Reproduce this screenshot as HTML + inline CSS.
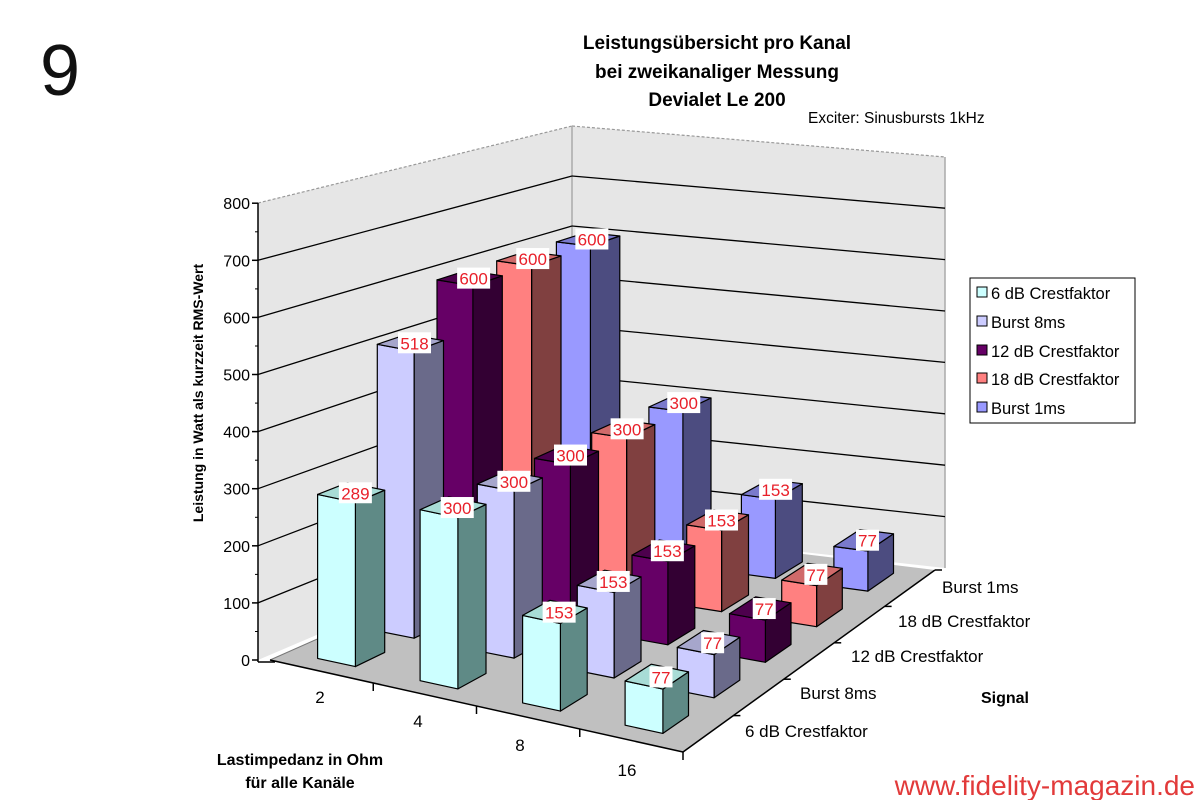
<!DOCTYPE html>
<html><head><meta charset="utf-8"><style>
html,body{margin:0;padding:0;background:#fff;}
svg{display:block;font-family:"Liberation Sans",Arial,sans-serif;}
</style></head><body>
<svg id="s" width="1200" height="800" viewBox="0 0 1200 800" xmlns="http://www.w3.org/2000/svg">
<rect width="1200" height="800" fill="#fff"/>
<text x="60" y="95" font-size="72" font-weight="300" text-anchor="middle" fill="#111">9</text>
<g font-weight="bold" font-size="19" text-anchor="middle" fill="#000">
<text x="717" y="49">Leistungsübersicht pro Kanal</text>
<text x="717" y="78">bei zweikanaliger Messung</text>
<text x="717" y="106">Devialet Le 200</text>
</g>
<text x="808" y="123" font-size="15.5">Exciter: Sinusbursts 1kHz</text>
<g id="walls"></g>
<g id="bars"></g>
<g font-size="16" text-anchor="end" id="yt"></g>
<text transform="translate(203,393) rotate(-90)" font-size="14" font-weight="bold" text-anchor="middle">Leistung in Watt als kurzzeit RMS-Wert</text>
<g font-size="17">
<text x="320" y="703" text-anchor="middle">2</text>
<text x="418" y="727" text-anchor="middle">4</text>
<text x="520" y="751" text-anchor="middle">8</text>
<text x="627" y="776" text-anchor="middle">16</text>
<text x="942" y="593">Burst 1ms</text>
<text x="898" y="627">18 dB Crestfaktor</text>
<text x="851" y="662">12 dB Crestfaktor</text>
<text x="800" y="699">Burst 8ms</text>
<text x="745" y="737">6 dB Crestfaktor</text>
</g>
<text x="1005" y="703" font-size="16" font-weight="bold" text-anchor="middle">Signal</text>
<g font-size="16" font-weight="bold" text-anchor="middle">
<text x="300" y="765">Lastimpedanz in Ohm</text>
<text x="300" y="788">für alle Kanäle</text>
</g>
<rect x="970" y="278" width="165" height="145" fill="#fff" stroke="#000" stroke-width="1"/>
<g font-size="16.5">
<rect x="977" y="287" width="10" height="10" fill="#ccffff" stroke="#000"/><text x="991" y="299">6 dB Crestfaktor</text>
<rect x="977" y="316" width="10" height="10" fill="#ccccff" stroke="#000"/><text x="991" y="328">Burst 8ms</text>
<rect x="977" y="345" width="10" height="10" fill="#660066" stroke="#000"/><text x="991" y="357">12 dB Crestfaktor</text>
<rect x="977" y="373" width="10" height="10" fill="#ff8080" stroke="#000"/><text x="991" y="385">18 dB Crestfaktor</text>
<rect x="977" y="402" width="10" height="10" fill="#9999ff" stroke="#000"/><text x="991" y="414">Burst 1ms</text>
</g>
<text x="1195" y="795" font-size="28" fill="#e23a3a" text-anchor="end">www.fidelity-magazin.de</text>
</svg>
<script>
(function(){
var NS="http://www.w3.org/2000/svg";
var FL=[270,660],FR=[683,752],BL=[572,526],BR=[935,570];
var sFL=0.571,sFR=0.58,sBL=0.5,sBR=0.512;
function P(u,v,h){
 var x=FL[0]*(1-u)*(1-v)+FR[0]*u*(1-v)+BL[0]*(1-u)*v+BR[0]*u*v;
 var y=FL[1]*(1-u)*(1-v)+FR[1]*u*(1-v)+BL[1]*(1-u)*v+BR[1]*u*v;
 var s=sFL*(1-u)*(1-v)+sFR*u*(1-v)+sBL*(1-u)*v+sBR*u*v;
 return [x,y-h*s];
}
function poly(g,pts,fill,stroke,sw){
 var p=document.createElementNS(NS,"polygon");
 p.setAttribute("points",pts.map(function(a){return a[0].toFixed(1)+","+a[1].toFixed(1)}).join(" "));
 p.setAttribute("fill",fill);p.setAttribute("stroke",stroke||"#000");p.setAttribute("stroke-width",sw||1.2);
 p.setAttribute("stroke-linejoin","round");g.appendChild(p);
}
function line(g,a,b,c,w,dash){
 var l=document.createElementNS(NS,"line");
 l.setAttribute("x1",a[0]);l.setAttribute("y1",a[1]);l.setAttribute("x2",b[0]);l.setAttribute("y2",b[1]);
 l.setAttribute("stroke",c);l.setAttribute("stroke-width",w);if(dash)l.setAttribute("stroke-dasharray",dash);g.appendChild(l);
}
function txt(g,x,y,t,attrs){
 var e=document.createElementNS(NS,"text");e.setAttribute("x",x);e.setAttribute("y",y);e.textContent=t;
 for(var k in attrs)e.setAttribute(k,attrs[k]);g.appendChild(e);
}
var W=document.getElementById("walls");
var LWx=258;
poly(W,[[LWx,660],[LWx,203],[572,126],[572,526]],"#e6e6e6","none",0);
poly(W,[[572,526],[572,126],[945,157],[945,568]],"#e6e6e6","none",0);
line(W,[LWx,203],[572,126],"#999",1.2,"3,2");
line(W,[572,126],[945,157],"#999",1.2,"3,2");
line(W,[572,126],[572,526],"#aaa",1.5);
line(W,[945,157],[945,568],"#aaa",1.5);
for(var k=1;k<=7;k++){
 var yl=660-k*57.1, yc=526-k*50, yr=568-k*51.4;
 line(W,[LWx,yl],[572,yc],"#000",1.3);
 line(W,[572,yc],[945,yr],"#000",1.3);
}
poly(W,[[FL[0],FL[1]],[FR[0],FR[1]],[BR[0],BR[1]],[BL[0],BL[1]]],"#c0c0c0","none",0);
line(W,[LWx,662],[FL[0]+5,662],"#000",1.5);
line(W,[FL[0],FL[1]],[BL[0],BL[1]],"#777",1);
line(W,[FL[0],FL[1]],[FR[0],FR[1]],"#000",1.5);
line(W,[FR[0],FR[1]],[BR[0],BR[1]],"#000",1.5);
line(W,[LWx,203],[LWx,662],"#000",1.5);
var YT=document.getElementById("yt");
for(var k=0;k<=8;k++){
 var y=660-k*57.1;
 line(W,[LWx-6,y],[LWx,y],"#000",1.5);
 if(k<8) line(W,[LWx-3,y-28.5],[LWx,y-28.5],"#000",1);
 txt(YT,250,y+6,String(k*100),{});
}
for(var c=1;c<=4;c++){var p=P(c*0.25,0,0);line(W,p,[p[0],p[1]+8],"#000",1.5);}
for(var k=1;k<=5;k++){var p=P(1,k*0.2,0);line(W,p,[p[0]+7,p[1]],"#000",1.5);}
var data=[[289,300,153,77],[518,300,153,77],[600,300,153,77],[600,300,153,77],[600,300,153,77]];
var cols=[["#ccffff","#5f8a86","#a8dcd6"],["#ccccff","#6a6a8a","#a6a6cc"],["#660066","#330033","#4d004d"],["#ff8080","#804040","#d06a6a"],["#9999ff","#4c4c80","#7a7acc"]];
var B=document.getElementById("bars");
for(var s=4;s>=0;s--){
 for(var c=0;c<4;c++){
  var h=data[s][c];
  var u0=c*0.25+0.072,u1=u0+0.092,v0=s*0.2+0.06,v1=v0+0.1;
  var col=cols[s];
  poly(B,[P(u1,v0,0),P(u1,v1,0),P(u1,v1,h),P(u1,v0,h)],col[1]);
  poly(B,[P(u0,v0,0),P(u1,v0,0),P(u1,v0,h),P(u0,v0,h)],col[0]);
  poly(B,[P(u0,v0,h),P(u1,v0,h),P(u1,v1,h),P(u0,v1,h)],col[2]);
  var t=P((u0+u1)/2+0.01,(v0+v1)/2,h);
  var w=String(h).length*10+3;
  var r=document.createElementNS(NS,"rect");
  r.setAttribute("x",t[0]-w/2);r.setAttribute("y",t[1]-11);r.setAttribute("width",w);r.setAttribute("height",21);r.setAttribute("fill","#fff");
  B.appendChild(r);
  txt(B,t[0],t[1]+6,String(h),{"font-size":"17","fill":"#e8202a","text-anchor":"middle"});
 }
}
})();
</script>
</body></html>
